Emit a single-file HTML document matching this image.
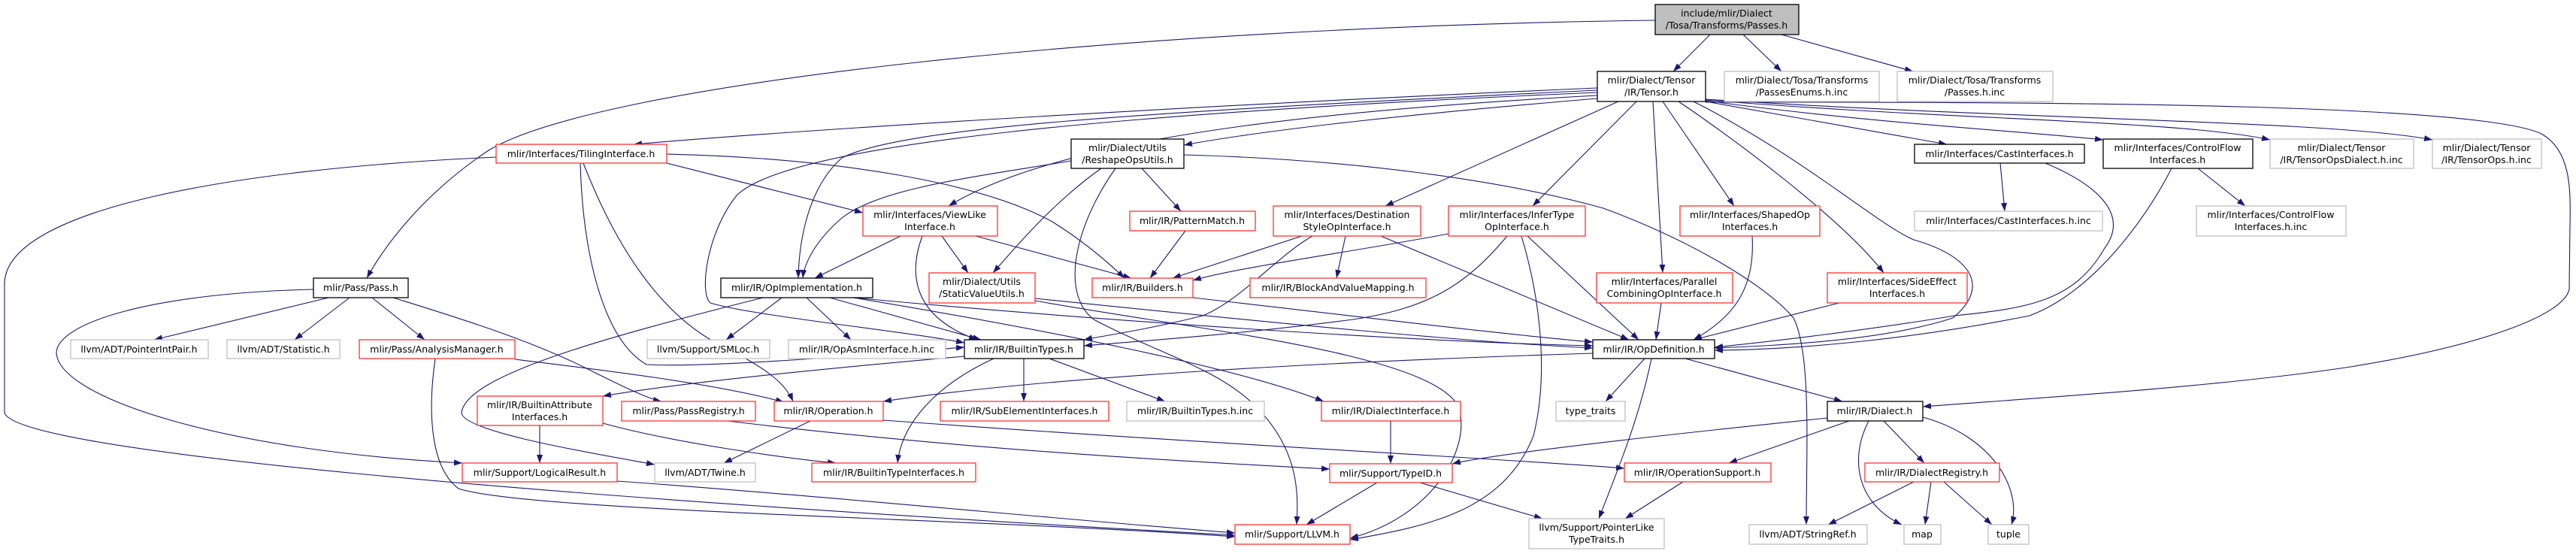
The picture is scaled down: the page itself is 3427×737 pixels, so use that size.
<!DOCTYPE html>
<html><head><meta charset="utf-8"><style>
html,body{margin:0;padding:0;background:#fff;}
svg{display:block;}
text{font-family:"DejaVu Sans","Liberation Sans",sans-serif;font-size:12.5px;fill:#000;text-anchor:middle;}
.e{fill:none;stroke:#191970;stroke-width:1.1;marker-end:url(#a);}
.b{fill:#fff;stroke:#000;stroke-width:1.3;}
.r{fill:#fff;stroke:#f33;stroke-width:1.3;}
.g{fill:#fff;stroke:#bfbfbf;stroke-width:1.3;}
</style></head><body>
<svg width="3427" height="737" viewBox="0 0 3427 737" xmlns="http://www.w3.org/2000/svg">
<defs><marker id="a" markerUnits="userSpaceOnUse" markerWidth="11" markerHeight="8" refX="11" refY="4" orient="auto"><path d="M0,0 L11,4 L0,8 z" fill="#191970"/></marker></defs>
<g>
<path class="e" d="M2202,27 C1500,36 800,110 650,200 C560,260 510,330 488,370"/>
<path class="e" d="M2275,46 L2226,95"/>
<path class="e" d="M2319,46 L2370,95"/>
<path class="e" d="M2370,46 L2545,95"/>
<path class="e" d="M2125,117 C1600,140 1100,170 843,192"/>
<path class="e" d="M2125,120 C1500,150 1200,170 1120,210 C1075,250 1063,320 1062,370"/>
<path class="e" d="M2125,123 C1500,150 1050,190 980,260 C940,310 930,390 945,403 C1000,420 1200,440 1283,456"/>
<path class="e" d="M2125,127 C1700,150 1400,190 1262,274"/>
<path class="e" d="M2125,131 C1900,150 1700,170 1575,193"/>
<path class="e" d="M2153,135 L1843,274"/>
<path class="e" d="M2177,135 L2039,274"/>
<path class="e" d="M2199,135 L2212,363"/>
<path class="e" d="M2212,135 L2307,274"/>
<path class="e" d="M2233,135 C2300,180 2450,290 2506,363"/>
<path class="e" d="M2253,135 C2400,210 2500,300 2546,319 C2620,340 2650,380 2598,423 C2500,455 2350,460 2281,463"/>
<path class="e" d="M2269,135 L2590,192"/>
<path class="e" d="M2269,134 C2500,165 2700,175 2798,186"/>
<path class="e" d="M2269,133 C2600,160 2900,160 3020,186"/>
<path class="e" d="M2269,132 C2700,160 3100,160 3236,186"/>
<path class="e" d="M2269,136 C2800,135 3300,140 3381,178 C3420,200 3420,250 3419,300 L3418,385 C3410,420 3300,460 3127,488 C2950,515 2700,530 2558,541"/>
<path class="e" d="M1575,206 C1800,212 2000,240 2133,277 C2250,320 2350,380 2386,423 C2410,470 2403,600 2403,698"/>
<path class="e" d="M1425,214 C1300,235 1170,250 1120,290 C1085,320 1070,350 1068,370"/>
<path class="e" d="M1465,224 C1400,270 1350,330 1321,363"/>
<path class="e" d="M1484,224 C1430,300 1410,390 1455,425 C1540,470 1620,490 1670,540 C1730,600 1727,660 1725,698"/>
<path class="e" d="M1519,224 L1571,281"/>
<path class="e" d="M1577,307 L1530,370"/>
<path class="e" d="M1198,314 L1084,370"/>
<path class="e" d="M1227,314 C1210,360 1210,420 1300,452"/>
<path class="e" d="M1253,314 L1288,363"/>
<path class="e" d="M1298,314 L1505,370"/>
<path class="e" d="M660,209 C300,225 10,280 6,376 L6,549 C20,600 700,660 1643,712"/>
<path class="e" d="M887,217 L1148,283"/>
<path class="e" d="M887,205 C1100,210 1300,240 1400,295 C1440,320 1470,345 1496,370"/>
<path class="e" d="M772,217 C775,330 800,450 860,485 C950,490 1200,468 1283,462"/>
<path class="e" d="M776,217 C820,330 880,420 960,460 C1020,490 1045,510 1055,534"/>
<path class="e" d="M437,396 L205,452"/>
<path class="e" d="M465,396 L392,452"/>
<path class="e" d="M495,396 L565,452"/>
<path class="e" d="M523,396 C600,420 700,450 780,490 C820,510 860,530 880,534"/>
<path class="e" d="M417,385 C200,390 75,430 75,470 C80,530 300,600 615,616"/>
<path class="e" d="M685,478 C800,492 950,510 1043,535"/>
<path class="e" d="M579,477 C570,540 570,620 610,650 C700,680 1300,690 1643,714"/>
<path class="e" d="M1015,396 C800,450 620,500 614,549 C615,575 800,605 871,618"/>
<path class="e" d="M1040,396 L966,452"/>
<path class="e" d="M1073,396 L1132,452"/>
<path class="e" d="M1104,396 L1305,452"/>
<path class="e" d="M1135,396 C1500,430 1900,455 2119,460"/>
<path class="e" d="M1135,396 C1400,440 1650,490 1761,534"/>
<path class="e" d="M1377,397 C1700,430 1950,455 2119,463"/>
<path class="e" d="M1377,400 C1600,440 1900,470 1940,540 C1960,600 1900,690 1796,716"/>
<path class="e" d="M1587,396 C1800,420 2000,445 2119,455"/>
<path class="e" d="M1732,314 L1560,370"/>
<path class="e" d="M1746,314 C1700,340 1650,400 1600,420 C1520,440 1460,448 1442,452"/>
<path class="e" d="M1790,314 L1778,370"/>
<path class="e" d="M1837,314 L2167,452"/>
<path class="e" d="M1927,311 C1800,335 1650,355 1587,373"/>
<path class="e" d="M2005,314 C1950,380 1900,410 1800,425 C1650,445 1500,455 1442,460"/>
<path class="e" d="M2024,314 C2050,400 2060,500 2040,580 C2000,680 1900,700 1796,718"/>
<path class="e" d="M2032,314 L2180,452"/>
<path class="e" d="M2210,403 L2203,452"/>
<path class="e" d="M2331,314 C2335,380 2310,420 2253,452"/>
<path class="e" d="M2447,403 L2253,452"/>
<path class="e" d="M2661,217 L2667,281"/>
<path class="e" d="M2721,217 C2800,250 2830,290 2800,330 C2760,400 2700,410 2600,420 C2480,440 2350,455 2281,462"/>
<path class="e" d="M2924,224 L2987,274"/>
<path class="e" d="M2889,224 C2850,300 2780,390 2700,420 C2550,450 2400,465 2281,466"/>
<path class="e" d="M2119,470 C1800,480 1400,500 1175,534"/>
<path class="e" d="M2188,477 L2136,534"/>
<path class="e" d="M2242,477 L2451,534"/>
<path class="e" d="M2197,477 C2180,560 2150,630 2127,690"/>
<path class="e" d="M1850,560 L1850,617"/>
<path class="e" d="M2431,556 C2200,580 1980,605 1932,617"/>
<path class="e" d="M2460,560 L2300,616"/>
<path class="e" d="M2506,560 L2560,616"/>
<path class="e" d="M2486,560 C2460,610 2470,670 2530,698"/>
<path class="e" d="M2558,555 C2650,580 2690,650 2676,698"/>
<path class="e" d="M1832,642 L1738,698"/>
<path class="e" d="M1889,642 L2052,690"/>
<path class="e" d="M2239,641 L2162,690"/>
<path class="e" d="M2546,641 L2432,698"/>
<path class="e" d="M2569,641 L2561,698"/>
<path class="e" d="M2586,641 L2650,698"/>
<path class="e" d="M1283,474 C1100,490 900,510 802,527"/>
<path class="e" d="M1362,477 L1362,534"/>
<path class="e" d="M1396,477 L1550,534"/>
<path class="e" d="M1322,477 C1250,510 1200,560 1194,616"/>
<path class="e" d="M718,566 L718,616"/>
<path class="e" d="M802,563 C900,590 1050,610 1112,616"/>
<path class="e" d="M968,560 C1300,600 1600,615 1769,624"/>
<path class="e" d="M1078,560 L963,616"/>
<path class="e" d="M1175,559 C1600,590 2000,610 2161,623"/>
<path class="e" d="M821,640 C1100,660 1400,690 1643,709"/>
</g>
<g>
<rect x="2202" y="6" width="191" height="40" fill="#bfbfbf" stroke="#000" stroke-width="1.3"/><text x="2297" y="22">include/mlir/Dialect</text><text x="2297" y="38">/Tosa/Transforms/Passes.h</text>
<rect class="b" x="2125" y="95" width="144" height="40"/><text x="2197" y="111">mlir/Dialect/Tensor</text><text x="2197" y="127">/IR/Tensor.h</text>
<rect class="g" x="2294" y="95" width="206" height="40"/><text x="2397" y="111">mlir/Dialect/Tosa/Transforms</text><text x="2397" y="127">/PassesEnums.h.inc</text>
<rect class="g" x="2524" y="95" width="207" height="40"/><text x="2627" y="111">mlir/Dialect/Tosa/Transforms</text><text x="2627" y="127">/Passes.h.inc</text>
<rect class="r" x="660" y="192" width="227" height="25"/><text x="773" y="209">mlir/Interfaces/TilingInterface.h</text>
<rect class="b" x="417" y="370" width="126" height="26"/><text x="480" y="387">mlir/Pass/Pass.h</text>
<rect class="b" x="1425" y="185" width="150" height="39"/><text x="1500" y="201">mlir/Dialect/Utils</text><text x="1500" y="217">/ReshapeOpsUtils.h</text>
<rect class="b" x="2547" y="192" width="226" height="25"/><text x="2660" y="209">mlir/Interfaces/CastInterfaces.h</text>
<rect class="b" x="2798" y="185" width="199" height="39"/><text x="2897" y="201">mlir/Interfaces/ControlFlow</text><text x="2897" y="217">Interfaces.h</text>
<rect class="g" x="3020" y="185" width="191" height="39"/><text x="3115" y="201">mlir/Dialect/Tensor</text><text x="3115" y="217">/IR/TensorOpsDialect.h.inc</text>
<rect class="g" x="3236" y="185" width="145" height="39"/><text x="3308" y="201">mlir/Dialect/Tensor</text><text x="3308" y="217">/IR/TensorOps.h.inc</text>
<rect class="r" x="1148" y="274" width="179" height="40"/><text x="1237" y="290">mlir/Interfaces/ViewLike</text><text x="1237" y="306">Interface.h</text>
<rect class="r" x="1503" y="281" width="167" height="26"/><text x="1586" y="298">mlir/IR/PatternMatch.h</text>
<rect class="r" x="1694" y="274" width="196" height="40"/><text x="1792" y="290">mlir/Interfaces/Destination</text><text x="1792" y="306">StyleOpInterface.h</text>
<rect class="r" x="1927" y="274" width="182" height="40"/><text x="2018" y="290">mlir/Interfaces/InferType</text><text x="2018" y="306">OpInterface.h</text>
<rect class="r" x="2235" y="274" width="186" height="40"/><text x="2328" y="290">mlir/Interfaces/ShapedOp</text><text x="2328" y="306">Interfaces.h</text>
<rect class="g" x="2547" y="281" width="250" height="26"/><text x="2672" y="298">mlir/Interfaces/CastInterfaces.h.inc</text>
<rect class="g" x="2922" y="274" width="199" height="40"/><text x="3021" y="290">mlir/Interfaces/ControlFlow</text><text x="3021" y="306">Interfaces.h.inc</text>
<rect class="b" x="959" y="370" width="202" height="26"/><text x="1060" y="387">mlir/IR/OpImplementation.h</text>
<rect class="r" x="1236" y="363" width="141" height="40"/><text x="1306" y="379">mlir/Dialect/Utils</text><text x="1306" y="395">/StaticValueUtils.h</text>
<rect class="r" x="1453" y="370" width="134" height="26"/><text x="1520" y="387">mlir/IR/Builders.h</text>
<rect class="r" x="1663" y="370" width="234" height="26"/><text x="1780" y="387">mlir/IR/BlockAndValueMapping.h</text>
<rect class="r" x="2124" y="363" width="181" height="40"/><text x="2214" y="379">mlir/Interfaces/Parallel</text><text x="2214" y="395">CombiningOpInterface.h</text>
<rect class="r" x="2431" y="363" width="186" height="40"/><text x="2524" y="379">mlir/Interfaces/SideEffect</text><text x="2524" y="395">Interfaces.h</text>
<rect class="g" x="94" y="452" width="183" height="25"/><text x="185" y="469">llvm/ADT/PointerIntPair.h</text>
<rect class="g" x="302" y="452" width="150" height="25"/><text x="377" y="469">llvm/ADT/Statistic.h</text>
<rect class="r" x="478" y="452" width="207" height="25"/><text x="581" y="469">mlir/Pass/AnalysisManager.h</text>
<rect class="g" x="861" y="452" width="163" height="25"/><text x="942" y="469">llvm/Support/SMLoc.h</text>
<rect class="g" x="1049" y="452" width="209" height="25"/><text x="1153" y="469">mlir/IR/OpAsmInterface.h.inc</text>
<rect class="b" x="1283" y="452" width="159" height="25"/><text x="1362" y="469">mlir/IR/BuiltinTypes.h</text>
<rect class="b" x="2119" y="452" width="162" height="25"/><text x="2200" y="469">mlir/IR/OpDefinition.h</text>
<rect class="r" x="635" y="527" width="167" height="39"/><text x="718" y="543">mlir/IR/BuiltinAttribute</text><text x="718" y="559">Interfaces.h</text>
<rect class="r" x="827" y="534" width="178" height="26"/><text x="916" y="551">mlir/Pass/PassRegistry.h</text>
<rect class="r" x="1030" y="534" width="145" height="26"/><text x="1102" y="551">mlir/IR/Operation.h</text>
<rect class="r" x="1251" y="534" width="224" height="26"/><text x="1363" y="551">mlir/IR/SubElementInterfaces.h</text>
<rect class="g" x="1499" y="534" width="183" height="26"/><text x="1590" y="551">mlir/IR/BuiltinTypes.h.inc</text>
<rect class="r" x="1758" y="534" width="185" height="26"/><text x="1850" y="551">mlir/IR/DialectInterface.h</text>
<rect class="g" x="2070" y="534" width="92" height="26"/><text x="2116" y="551">type_traits</text>
<rect class="b" x="2431" y="534" width="127" height="26"/><text x="2494" y="551">mlir/IR/Dialect.h</text>
<rect class="r" x="615" y="616" width="206" height="25"/><text x="718" y="633">mlir/Support/LogicalResult.h</text>
<rect class="g" x="871" y="616" width="134" height="25"/><text x="938" y="633">llvm/ADT/Twine.h</text>
<rect class="r" x="1080" y="616" width="218" height="25"/><text x="1189" y="633">mlir/IR/BuiltinTypeInterfaces.h</text>
<rect class="r" x="1769" y="617" width="163" height="25"/><text x="1850" y="634">mlir/Support/TypeID.h</text>
<rect class="r" x="2161" y="616" width="195" height="25"/><text x="2258" y="633">mlir/IR/OperationSupport.h</text>
<rect class="r" x="2481" y="616" width="179" height="25"/><text x="2570" y="633">mlir/IR/DialectRegistry.h</text>
<rect class="r" x="1643" y="698" width="153" height="26"/><text x="1719" y="715">mlir/Support/LLVM.h</text>
<rect class="g" x="2034" y="690" width="180" height="40"/><text x="2124" y="706">llvm/Support/PointerLike</text><text x="2124" y="722">TypeTraits.h</text>
<rect class="g" x="2327" y="698" width="157" height="26"/><text x="2405" y="715">llvm/ADT/StringRef.h</text>
<rect class="g" x="2533" y="698" width="49" height="26"/><text x="2557" y="715">map</text>
<rect class="g" x="2645" y="698" width="54" height="26"/><text x="2672" y="715">tuple</text>
</g>
</svg>
</body></html>
